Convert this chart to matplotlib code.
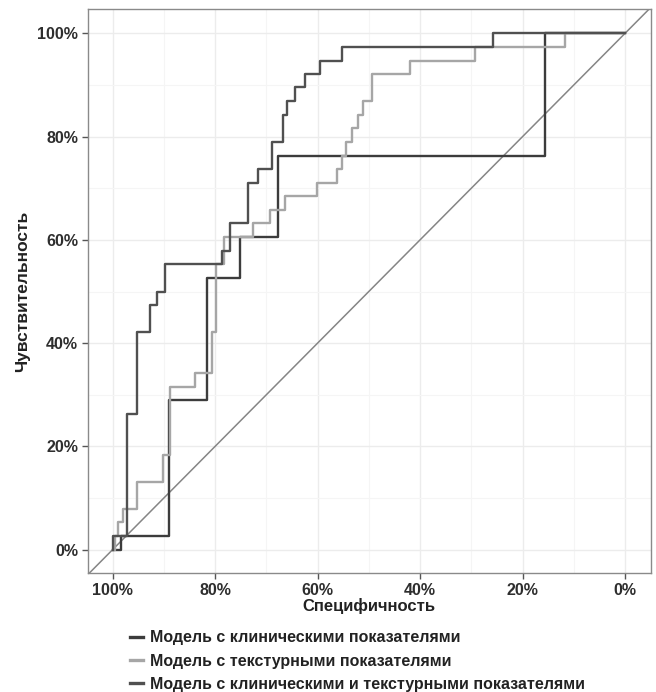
"""ROC curves for three diagnostic models (specificity axis reversed)."""

import matplotlib

matplotlib.use("Agg")
import matplotlib.pyplot as plt
from matplotlib.lines import Line2D
from matplotlib.ticker import FuncFormatter, MultipleLocator

plt.rcParams["font.family"] = ["Liberation Sans", "DejaVu Sans"]

# step points (specificity %, sensitivity %), drawn with steps-post
clin_spec = [100, 98.3, 89.0, 81.6, 75.1, 67.7, 15.7, 0]
clin_sens = [0, 2.6, 28.9, 52.6, 60.5, 76.3, 100, 100]

text_spec = [100, 99.5, 98.9, 98.0, 95.2, 90.2, 88.8, 83.9, 80.6, 79.8,
             78.3, 72.6, 69.3, 66.4, 60.1, 56.2, 55.3, 54.5, 53.3, 52.2,
             51.2, 49.4, 42.0, 29.3, 11.8, 0]
text_sens = [0, 2.6, 5.3, 7.9, 13.2, 18.4, 31.6, 34.2, 42.1, 55.3,
             60.5, 63.2, 65.8, 68.4, 71.1, 73.7, 76.3, 78.9, 81.6, 84.2,
             86.8, 92.1, 94.7, 97.4, 100, 100]

comb_spec = [100, 100, 97.2, 95.2, 92.7, 91.3, 89.8, 78.7, 77.1, 73.6,
             71.6, 68.9, 66.8, 66.0, 64.4, 62.5, 59.6, 55.3, 25.8, 0]
comb_sens = [0, 2.6, 26.3, 42.1, 47.4, 50.0, 55.3, 57.9, 63.2, 71.1,
             73.7, 78.9, 84.2, 86.8, 89.5, 92.1, 94.7, 97.4, 100, 100]

labels = [
    "Модель с клиническими показателями",
    "Модель с текстурными показателями",
    "Модель с клиническими и текстурными показателями",
]
colors = ["#3c3c3c", "#a6a6a6", "#505050"]

fig = plt.figure(figsize=(6.56, 6.92), dpi=100)
ax = fig.add_axes([0.134, 0.172, 0.858, 0.815])

ax.set_xlim(104.8, -5.0)
ax.set_ylim(-4.5, 104.7)

ax.xaxis.set_major_locator(MultipleLocator(20))
ax.yaxis.set_major_locator(MultipleLocator(20))
ax.xaxis.set_minor_locator(MultipleLocator(10))
ax.yaxis.set_minor_locator(MultipleLocator(10))
pct = FuncFormatter(lambda v, _: f"{v:.0f}%")
ax.xaxis.set_major_formatter(pct)
ax.yaxis.set_major_formatter(pct)

ax.grid(which="major", color="#ececec", lw=1.0)
ax.grid(which="minor", color="#f5f5f5", lw=0.8)
ax.set_axisbelow(True)

# chance line across the whole panel
ax.axline((100, 0), (0, 100), color="#858585", lw=1.1, zorder=2)

for spec, sens, c in zip([clin_spec, text_spec, comb_spec],
                         [clin_sens, text_sens, comb_sens], colors):
    ax.step(spec, sens, where="post", color=c, lw=1.7, zorder=3)

for s in ax.spines.values():
    s.set_color("#8a8a8a")
    s.set_linewidth(1.0)

ax.tick_params(which="major", length=4, width=1, color="#555555",
               labelsize=11.5, labelcolor="#2e2e2e", pad=3)
ax.tick_params(which="minor", length=0)
for t in ax.get_xticklabels() + ax.get_yticklabels():
    t.set_fontweight("bold")

ax.set_xlabel("Специфичность", fontsize=12, fontweight="bold",
              color="#222222", labelpad=0)
ax.set_ylabel("Чувствительность", fontsize=12.5, fontweight="bold",
              color="#222222", labelpad=5)

handles = [Line2D([], [], color=c, lw=2.4) for c in colors]
leg = fig.legend(handles, labels, loc="upper left",
                 bbox_to_anchor=(0.198, 0.089), frameon=False,
                 handlelength=0.8, handletextpad=0.45, labelspacing=0.52,
                 borderaxespad=0, borderpad=0, fontsize=11.5)
for t in leg.get_texts():
    t.set_fontweight("bold")
    t.set_color("#222222")

fig.savefig("out.png", dpi=100, facecolor="white")
